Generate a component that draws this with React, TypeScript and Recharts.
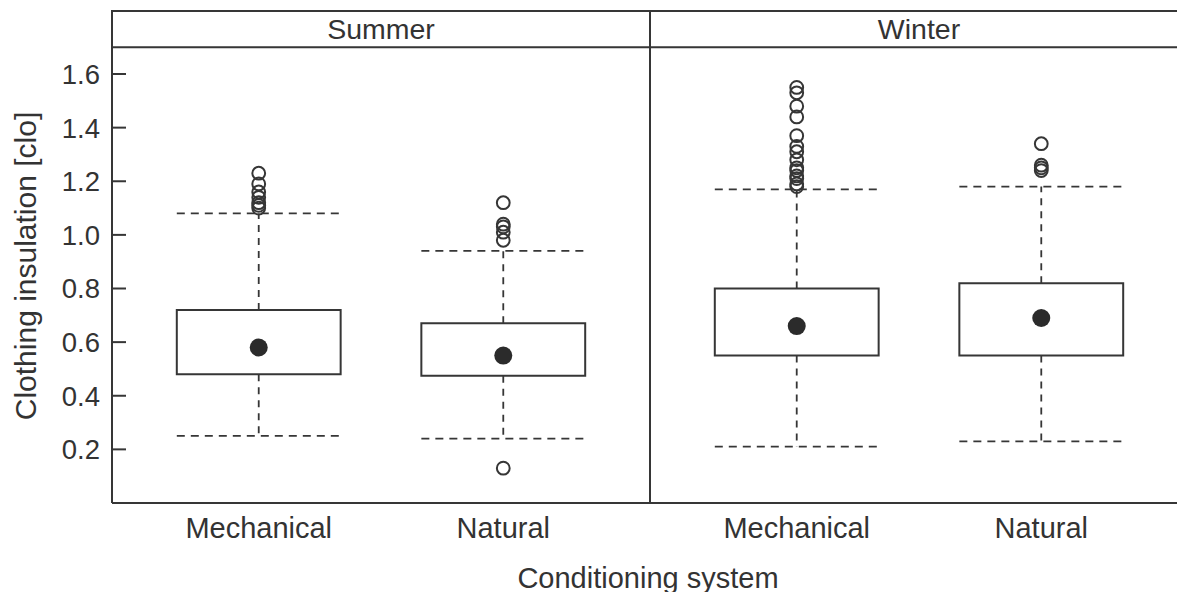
import React from "react";
import {
  ComposedChart,
  XAxis,
  YAxis,
  Scatter,
  ReferenceArea,
  ReferenceLine,
} from "recharts";

// ---- data ----
const seasons = ["Summer", "Winter"];
const systems = ["Mechanical", "Natural"];
// groups order: Summer-Mechanical, Summer-Natural, Winter-Mechanical, Winter-Natural
const q1 = [0.48, 0.475, 0.55, 0.55];
const q3 = [0.72, 0.67, 0.8, 0.82];
const means = [0.58, 0.55, 0.66, 0.69];
const whiskerLow = [0.25, 0.24, 0.21, 0.23];
const whiskerHigh = [1.08, 0.94, 1.17, 1.18];
const outliers = [
  [1.23, 1.19, 1.16, 1.14, 1.12, 1.11, 1.1],
  [1.12, 1.04, 1.03, 1.01, 0.98, 0.13],
  [1.55, 1.53, 1.48, 1.44, 1.37, 1.33, 1.31, 1.28, 1.25, 1.24, 1.22, 1.21, 1.19, 1.18],
  [1.34, 1.26, 1.25, 1.24],
];
const yTicks = [0.2, 0.4, 0.6, 0.8, 1.0, 1.2, 1.4, 1.6];
const yTitle = "Clothing insulation [clo]";
const xTitle = "Conditioning system";

// ---- layout (panel geometry in axis units) ----
const PANEL_W = 2.2;
const PANEL_START = 0.4;
const Y_TOP = 1.835;
const STRIP_Y = 1.7;
const HALF = 0.335;
const groupPos = (si: number, ci: number) => PANEL_START + si * PANEL_W + 0.6 + ci;
const groups = seasons.flatMap((s, si) =>
  systems.map((c, ci) => ({ season: s, system: c, pos: groupPos(si, ci) }))
);
const xTickPos = groups.map((g) => g.pos);
const xTickLabel = (v: number) => {
  const g = groups.find((gg) => Math.abs(gg.pos - v) < 1e-6);
  return g ? g.system : "";
};

const meanData = groups.map((g, i) => ({ x: g.pos, y: means[i] }));
const outlierData = groups.flatMap((g, i) => outliers[i].map((v) => ({ x: g.pos, y: v })));

const LINE = "#363636";
const TEXT = "#333333";
const FONT = "'Liberation Sans', Arial, Helvetica, sans-serif";

const LeftTick = (props: any) => {
  const { x, y, payload } = props;
  return (
    <g>
      <line x1={x + 12} x2={x + 26} y1={y} y2={y} stroke={LINE} strokeWidth={2} />
      <text x={x} y={y} dy="0.36em" textAnchor="end" fill={TEXT} fontSize={27.5} fontFamily={FONT}>
        {Number(payload.value).toFixed(1)}
      </text>
    </g>
  );
};

const RightTick = (props: any) => {
  const { x, y } = props;
  return <line x1={x - 14} x2={x} y1={y} y2={y} stroke={LINE} strokeWidth={2} />;
};

const BottomTick = (props: any) => {
  const { x, y, payload } = props;
  return (
    <text x={x} y={y + 35} textAnchor="middle" fill={TEXT} fontSize={29} fontFamily={FONT}>
      {xTickLabel(payload.value)}
    </text>
  );
};

const XTitle = (props: any) => {
  const vb = props.viewBox || { x: 0, y: 0, width: 0 };
  return (
    <text x={vb.x + vb.width / 2 - 2} y={vb.y + 84.5} textAnchor="middle" fill={TEXT} fontSize={29} fontFamily={FONT}>
      {xTitle}
    </text>
  );
};

const YTitle = () => (
  <text
    x={35.5}
    y={266}
    transform="rotate(-90 35.5 266)"
    textAnchor="middle"
    fill={TEXT}
    fontSize={30}
    fontFamily={FONT}
  >
    {yTitle}
  </text>
);

const MeanDot = (props: any) => <circle cx={props.cx} cy={props.cy} r={9} fill="#2b2b2b" />;
const OutlierDot = (props: any) => (
  <circle cx={props.cx} cy={props.cy} r={6.4} fill="none" stroke={LINE} strokeWidth={2} />
);

export default function App() {
  return (
    <div
      style={{
        position: "absolute",
        left: 0,
        top: 0,
        width: 1177,
        height: 592,
        overflow: "hidden",
        background: "#ffffff",
      }}
    >
      <ComposedChart width={1188} height={592} margin={{ top: 11, right: 0, bottom: 0, left: 0 }}>
        <XAxis
          dataKey="x"
          type="number"
          domain={[PANEL_START, PANEL_START + 2 * PANEL_W]}
          allowDataOverflow
          ticks={xTickPos}
          interval={0}
          tick={<BottomTick />}
          tickLine={false}
          tickSize={0}
          tickMargin={0}
          height={89}
          axisLine={{ stroke: LINE, strokeWidth: 2 }}
          label={<XTitle />}
        />
        <YAxis
          yAxisId="l"
          type="number"
          domain={[0, Y_TOP]}
          allowDataOverflow
          ticks={yTicks}
          interval={0}
          width={112}
          tickSize={0}
          tickMargin={12}
          tickLine={false}
          tick={<LeftTick />}
          axisLine={{ stroke: LINE, strokeWidth: 2 }}
          label={<YTitle />}
        />
        <YAxis
          yAxisId="r"
          orientation="right"
          type="number"
          domain={[0, Y_TOP]}
          allowDataOverflow
          ticks={yTicks}
          interval={0}
          width={0}
          tickSize={0}
          tickMargin={0}
          tickLine={false}
          tick={<RightTick />}
          axisLine={false}
        />

        {seasons.map((s, si) => (
          <ReferenceArea
            key={"strip" + s}
            yAxisId="l"
            x1={PANEL_START + si * PANEL_W}
            x2={PANEL_START + (si + 1) * PANEL_W}
            y1={STRIP_Y}
            y2={Y_TOP}
            fill="#ffffff"
            fillOpacity={0}
            stroke={LINE}
            strokeWidth={2}
            ifOverflow="visible"
            label={{ value: s, position: "center", fill: TEXT, fontSize: 28.5, fontFamily: FONT }}
          />
        ))}
        <ReferenceLine yAxisId="l" x={PANEL_START + PANEL_W} stroke={LINE} strokeWidth={2} ifOverflow="visible" />

        {groups.map((g, i) => (
          <ReferenceLine
            key={"wh" + i}
            yAxisId="l"
            segment={[
              { x: g.pos, y: q3[i] },
              { x: g.pos, y: whiskerHigh[i] },
            ]}
            stroke={LINE}
            strokeWidth={1.8}
            strokeDasharray="7 6"
          />
        ))}
        {groups.map((g, i) => (
          <ReferenceLine
            key={"wl" + i}
            yAxisId="l"
            segment={[
              { x: g.pos, y: q1[i] },
              { x: g.pos, y: whiskerLow[i] },
            ]}
            stroke={LINE}
            strokeWidth={1.8}
            strokeDasharray="7 6"
          />
        ))}
        {groups.map((g, i) => (
          <ReferenceLine
            key={"ch" + i}
            yAxisId="l"
            segment={[
              { x: g.pos - HALF, y: whiskerHigh[i] },
              { x: g.pos + HALF, y: whiskerHigh[i] },
            ]}
            stroke={LINE}
            strokeWidth={1.8}
            strokeDasharray="8 6"
          />
        ))}
        {groups.map((g, i) => (
          <ReferenceLine
            key={"cl" + i}
            yAxisId="l"
            segment={[
              { x: g.pos - HALF, y: whiskerLow[i] },
              { x: g.pos + HALF, y: whiskerLow[i] },
            ]}
            stroke={LINE}
            strokeWidth={1.8}
            strokeDasharray="8 6"
          />
        ))}
        {groups.map((g, i) => (
          <ReferenceArea
            key={"box" + i}
            yAxisId="l"
            x1={g.pos - HALF}
            x2={g.pos + HALF}
            y1={q1[i]}
            y2={q3[i]}
            fill="#ffffff"
            fillOpacity={0}
            stroke={LINE}
            strokeWidth={2}
          />
        ))}

        <Scatter yAxisId="l" data={outlierData} dataKey="y" shape={<OutlierDot />} isAnimationActive={false} />
        <Scatter yAxisId="l" data={meanData} dataKey="y" shape={<MeanDot />} isAnimationActive={false} />
      </ComposedChart>
    </div>
  );
}
